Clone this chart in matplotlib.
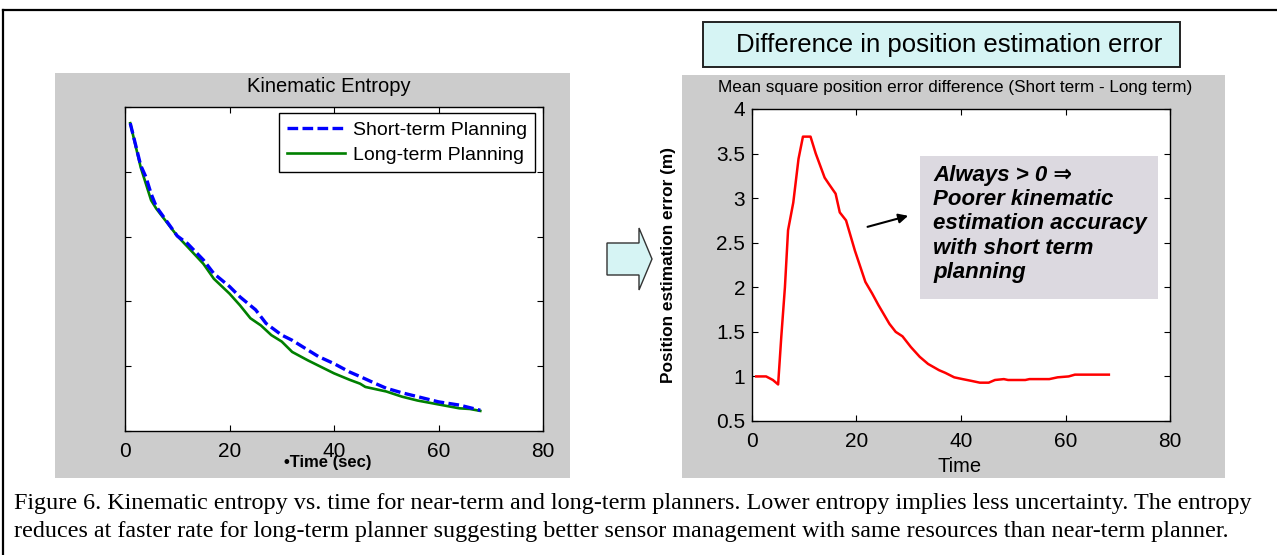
import matplotlib
matplotlib.use("Agg")
import matplotlib.pyplot as plt
from matplotlib.patches import Rectangle, Polygon

# --- data
t_short = [1, 3, 4, 5, 6, 10, 12, 15, 17, 20, 22, 25, 27, 30, 32, 35, 37,
           40, 43, 45, 48, 50, 53, 56, 60, 64, 68]
h_short = [4.75, 4.10, 3.92, 3.66, 3.46, 3.01, 2.89, 2.64, 2.43, 2.23, 2.07,
           1.87, 1.66, 1.48, 1.40, 1.25, 1.15, 1.04, 0.91, 0.84, 0.73, 0.66,
           0.59, 0.53, 0.45, 0.40, 0.32]

t_long = [1, 3, 5, 6, 10, 12, 15, 17, 20, 22, 24, 26, 28, 30, 32, 35, 38,
          40, 43, 45, 46, 50, 53, 56, 60, 64, 66, 68]
h_long = [4.75, 4.07, 3.56, 3.43, 3.01, 2.84, 2.58, 2.35, 2.12, 1.94, 1.74,
          1.63, 1.48, 1.38, 1.22, 1.09, 0.97, 0.89, 0.79, 0.73, 0.68, 0.61,
          0.53, 0.47, 0.41, 0.35, 0.34, 0.31]

t_err = [0.8, 2.7, 4, 5, 5.6, 6.3, 6.9, 7.9, 8.9, 9.75, 11.2, 12.2, 13.9,
         14.7, 16, 16.8, 18, 19.7, 21.7, 23, 24.2, 26.3, 27.5, 28.8, 30.4,
         32.1, 33.7, 35.8, 37, 38.7, 40.3, 42, 43.6, 45.3, 46.5, 48.2, 49,
         52.3, 53.1, 56.9, 58.5, 60.6, 61.8, 68.3]
err_diff = [1.0, 1.0, 0.96, 0.91, 1.44, 2.0, 2.64, 2.95, 3.44, 3.69, 3.69,
            3.50, 3.23, 3.16, 3.05, 2.84, 2.75, 2.41, 2.06, 1.93, 1.80, 1.59,
            1.50, 1.45, 1.33, 1.22, 1.14, 1.07, 1.04, 0.99, 0.97, 0.95, 0.93,
            0.93, 0.96, 0.97, 0.96, 0.96, 0.97, 0.97, 0.99, 1.0, 1.02, 1.02]

x_ticks = [0, 20, 40, 60, 80]
err_ticks = [0.5, 1, 1.5, 2, 2.5, 3, 3.5, 4]
entropy_ticks = [0, 1, 2, 3, 4, 5]

caption_lines = [
    "Figure 6. Kinematic entropy vs. time for near-term and long-term planners. "
    "Lower entropy implies less uncertainty. The entropy",
    "reduces at faster rate for long-term planner suggesting better sensor "
    "management with same resources than near-term planner.",
]
note = ("Always > 0 \u21d2\nPoorer kinematic\nestimation accuracy\n"
        "with short term\nplanning")

W, H = 1277, 555
SANS = ["Liberation Sans", "DejaVu Sans"]
plt.rcParams["font.family"] = SANS


def fig_rect(x0, y0, x1, y1):
    # pixel box (top-left origin) -> figure fraction [l, b, w, h]
    return [x0 / W, 1 - y1 / H, (x1 - x0) / W, (y1 - y0) / H]


def fx(px):
    return px / W


def fy(py):
    return 1 - py / H


fig = plt.figure(figsize=(W / 100, H / 100), dpi=100)
fig.patch.set_facecolor("white")

# outer frame (top and left edges visible)
fig.add_artist(plt.Line2D([fx(3), fx(1277)], [fy(10), fy(10)], color="black", lw=1.6,
                          transform=fig.transFigure))
fig.add_artist(plt.Line2D([fx(3), fx(3)], [fy(10), fy(555)], color="black", lw=1.6,
                          transform=fig.transFigure))

# gray panels behind the axes
for x0, y0, x1, y1 in [(55, 73, 570, 478), (682, 75, 1225, 478)]:
    r = fig_rect(x0, y0, x1, y1)
    fig.add_artist(Rectangle((r[0], r[1]), r[2], r[3], transform=fig.transFigure,
                             facecolor="#cccccc", edgecolor="none", zorder=-2))


def style_axes(ax):
    ax.tick_params(direction="in", top=True, right=True, length=4, width=0.8,
                   labelsize=15, pad=8)
    for s in ax.spines.values():
        s.set_linewidth(1.0)


# --- left: kinematic entropy
ax1 = fig.add_axes(fig_rect(125, 107, 543, 431))
ax1.plot(t_short, h_short, color="#0000ff", lw=2.4, dashes=(3.2, 1.3),
         label="Short-term Planning", zorder=3)
ax1.plot(t_long, h_long, color="#008000", lw=1.9, label="Long-term Planning", zorder=2)
ax1.set_xlim(0, 80)
ax1.set_ylim(0, 5)
ax1.set_xticks(x_ticks)
ax1.set_yticks(entropy_ticks)
ax1.set_yticklabels([])
style_axes(ax1)
leg = ax1.legend(loc="upper right", bbox_to_anchor=(0.981, 0.981), borderaxespad=0,
                 fontsize=14, fancybox=False, framealpha=1, edgecolor="black",
                 handlelength=3.0, borderpad=0.4, labelspacing=0.4,
                 handletextpad=0.4)
leg.get_frame().set_linewidth(1.0)
fig.text(fx(329), fy(87), "Kinematic Entropy", ha="center", va="center", fontsize=14.5)
fig.text(fx(328), fy(463), "\u2022Time (sec)", ha="center", va="center",
         fontsize=12, fontweight="bold")

# --- right: position error difference
ax2 = fig.add_axes(fig_rect(752, 109, 1170, 421))
ax2.plot(t_err, err_diff, color="#ff0000", lw=1.8)
ax2.set_xlim(0, 80)
ax2.set_ylim(0.5, 4)
ax2.set_xticks(x_ticks)
ax2.set_yticks(err_ticks)
ax2.set_yticklabels(["0.5", "1", "1.5", "2", "2.5", "3", "3.5", "4"])
style_axes(ax2)
ax2.tick_params(axis="y", pad=5)
ax2.annotate("", xy=(30.4, 2.81), xytext=(21.6, 2.67),
             arrowprops=dict(arrowstyle="-|>", color="black", lw=1.5,
                             mutation_scale=14))

r = fig_rect(920, 156, 1158, 299)
fig.add_artist(Rectangle((r[0], r[1]), r[2], r[3], transform=fig.transFigure,
                         facecolor="#dcd9e0", edgecolor="none", zorder=5))
fig.text(fx(933), fy(165), note, ha="left", va="top", fontsize=16,
         fontweight="bold", fontstyle="italic", linespacing=1.2, zorder=6)

fig.text(fx(955), fy(88), "Mean square position error difference (Short term - Long term)",
         ha="center", va="center", fontsize=12.3)
fig.text(fx(669), fy(265), "Position estimation error (m)", ha="center", va="center",
         rotation=90, fontsize=12.4, fontweight="bold")
fig.text(fx(960), fy(466), "Time", ha="center", va="center", fontsize=14.5)

# title box
r = fig_rect(703, 22, 1180, 67)
fig.add_artist(Rectangle((r[0], r[1]), r[2], r[3], transform=fig.transFigure,
                         facecolor="#d6f4f4", edgecolor="#222222", lw=1.4))
fig.text(fx(949), fy(45), "Difference in position estimation error", ha="center",
         va="center", fontsize=18.5)

# block arrow between the panels
pts = [(607, 243), (639, 243), (639, 228), (652, 259), (639, 290), (639, 275), (607, 275)]
fig.add_artist(Polygon([(fx(x), fy(y)) for x, y in pts], closed=True,
                       transform=fig.transFigure, facecolor="#d6f4f4",
                       edgecolor="#333333", lw=1.0))

# caption, one text per line
for line, y in zip(caption_lines, [504, 531]):
    fig.text(fx(14), fy(y), line, ha="left", va="center", fontsize=17.4,
             family=["Liberation Serif", "DejaVu Serif"])

fig.savefig("out.png", dpi=100)
